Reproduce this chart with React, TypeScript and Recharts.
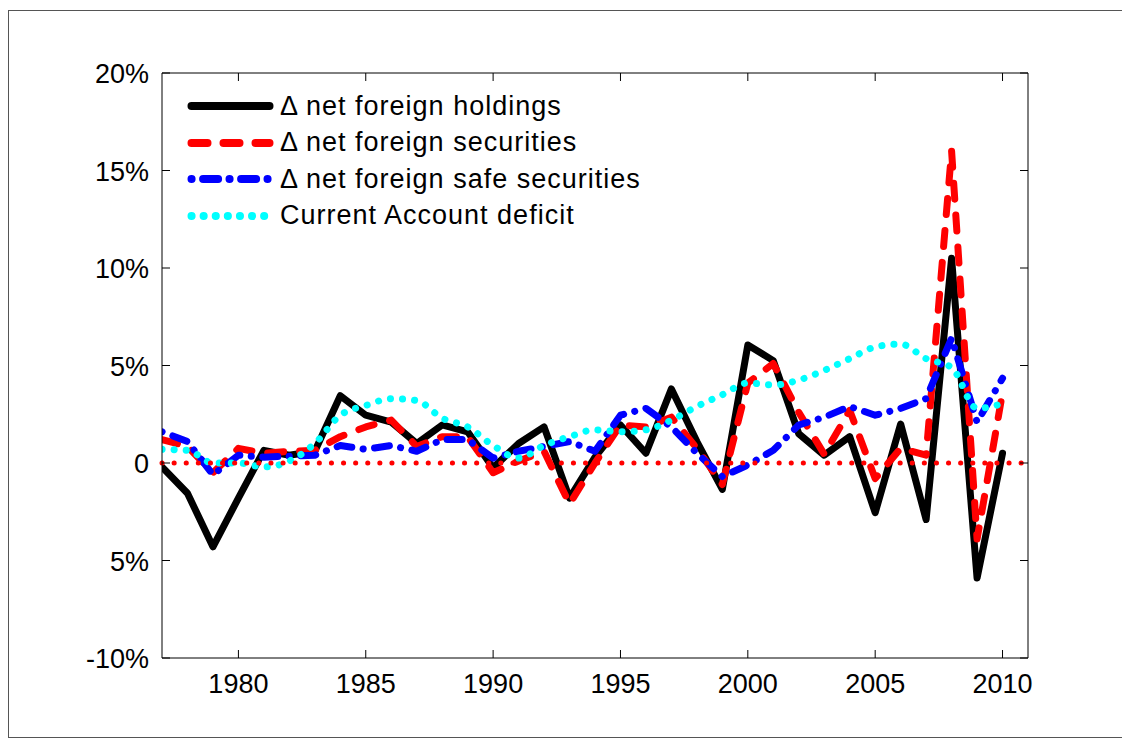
import { LineChart, Line, XAxis, YAxis, ReferenceLine, Legend } from 'recharts';

const FONT = '"Liberation Sans", Arial, Helvetica, sans-serif';

const years = [
  1977, 1978, 1979, 1980, 1981, 1982, 1983, 1984, 1985, 1986, 1987, 1988,
  1989, 1990, 1991, 1992, 1993, 1994, 1995, 1996, 1997, 1998, 1999, 2000,
  2001, 2002, 2003, 2004, 2005, 2006, 2007, 2008, 2009, 2010,
];

// values in percent
const netForeignHoldings = [
  -0.2, -1.55, -4.3, -1.8, 0.65, 0.4, 0.6, 3.45, 2.45, 2.1, 1.0, 1.95,
  1.6, -0.25, 1.0, 1.85, -1.8, 0.3, 1.95, 0.5, 3.8, 1.1, -1.35, 6.05,
  5.25, 1.5, 0.4, 1.35, -2.55, 2.0, -2.9, 10.5, -5.9, 0.5,
];

const netForeignSecurities = [
  1.2, 0.85, -0.5, 0.75, 0.5, 0.6, 0.65, 1.35, 1.85, 2.2, 0.85, 1.35,
  1.35, -0.5, 0.1, 0.6, -2.1, 0.0, 1.95, 1.85, 2.35, 0.75, -1.1, 4.1,
  5.1, 2.6, 0.45, 2.7, -0.8, 0.75, 0.4, 16.0, -3.9, 3.6,
];

const netForeignSafeSecurities = [
  1.6, 1.1, -0.6, 0.4, 0.3, 0.35, 0.4, 0.9, 0.7, 0.9, 0.6, 1.2,
  1.2, 0.25, 0.6, 0.85, 1.1, 0.6, 2.45, 2.8, 1.85, 0.5, -0.7, -0.1,
  0.65, 1.95, 2.35, 2.9, 2.45, 2.8, 3.3, 6.4, 2.1, 4.35,
];

const currentAccountDeficit = [
  0.7, 0.65, 0.0, 0.0, -0.2, 0.1, 1.0, 2.45, 2.95, 3.3, 3.2, 2.3,
  1.85, 0.9, 0.25, 0.9, 1.35, 1.7, 1.6, 1.7, 2.2, 2.9, 3.5, 4.1,
  4.0, 4.25, 4.75, 5.35, 5.95, 6.1, 5.35, 4.9, 2.8, 3.05,
];

const seriesNames = [
  '\u0394 net foreign holdings',
  '\u0394 net foreign securities',
  '\u0394 net foreign safe securities',
  'Current Account deficit',
];

const xTicks = [1980, 1985, 1990, 1995, 2000, 2005, 2010];
const yTicks = [-10, -5, 0, 5, 10, 15, 20];
const yTickLabels = ['-10%', '5%', '0', '5%', '10%', '15%', '20%'];

const data = years.map((year, i) => ({
  year,
  holdings: netForeignHoldings[i],
  securities: netForeignSecurities[i],
  safe: netForeignSafeSecurities[i],
  ca: currentAccountDeficit[i],
}));

const styles = [
  { key: 'holdings', color: '#000000', width: 7, dash: undefined as string | undefined },
  { key: 'securities', color: '#ff0000', width: 7, dash: '16 16' },
  { key: 'safe', color: '#0000ff', width: 7, dash: '0.1 11.5 15 11.4' },
  { key: 'ca', color: '#00ffff', width: 7, dash: '0.1 12' },
];

function BottomTick({ x, y, payload }: any) {
  return (
    <g>
      <line x1={x} y1={y} x2={x} y2={y - 8} stroke="#000" />
      <text x={x} y={y + 35} textAnchor="middle" fontSize={27} fontFamily={FONT} fill="#000">
        {payload.value}
      </text>
    </g>
  );
}

function TopTick({ x, y }: any) {
  return <line x1={x} y1={y} x2={x} y2={y + 8} stroke="#000" />;
}

function LeftTick({ x, y, payload }: any) {
  const idx = yTicks.indexOf(payload.value);
  return (
    <g>
      <line x1={x} y1={y} x2={x + 8} y2={y} stroke="#000" />
      <text x={x - 13} y={y + 10} textAnchor="end" fontSize={27} fontFamily={FONT} fill="#000">
        {yTickLabels[idx]}
      </text>
    </g>
  );
}

function RightTick({ x, y }: any) {
  return <line x1={x} y1={y} x2={x - 8} y2={y} stroke="#000" />;
}

function renderLegend() {
  return (
    <div style={{ fontFamily: FONT, fontSize: 27, color: '#000' }}>
      {styles.map((s, i) => (
        <div key={s.key} style={{ display: 'flex', alignItems: 'center', height: 36.5 }}>
          <svg width={92} height={14} style={{ display: 'block' }}>
            <line
              x1={6.5}
              y1={7}
              x2={84.5}
              y2={7}
              stroke={s.color}
              strokeWidth={s.width + 1}
              strokeDasharray={s.dash}
              strokeLinecap="round"
            />
          </svg>
          <span style={{ marginLeft: 3, whiteSpace: 'nowrap', letterSpacing: 1 }}>{seriesNames[i]}</span>
        </div>
      ))}
    </div>
  );
}

export default function App() {
  return (
    <div
      style={{
        position: 'relative',
        marginTop: 2,
        width: 1120,
        height: 726,
        border: '1px solid #555',
        background: '#fff',
      }}
    >
      <LineChart width={1120} height={726} data={data} margin={{ top: 32, right: 41, bottom: 19, left: 0 }}>
        <XAxis
          dataKey="year"
          type="number"
          domain={[1977, 2011]}
          allowDataOverflow
          ticks={xTicks}
          height={60}
          tickSize={0}
          tickMargin={0}
          tickLine={false}
          axisLine={{ stroke: '#000' }}
          tick={<BottomTick />}
        />
        <XAxis
          xAxisId="top"
          orientation="top"
          dataKey="year"
          type="number"
          domain={[1977, 2011]}
          allowDataOverflow
          ticks={xTicks}
          height={30}
          tickSize={0}
          tickMargin={0}
          tickLine={false}
          axisLine={{ stroke: '#000' }}
          tick={<TopTick />}
        />
        <YAxis
          type="number"
          domain={[-10, 20]}
          allowDataOverflow
          ticks={yTicks}
          width={153}
          tickSize={0}
          tickMargin={0}
          tickLine={false}
          axisLine={{ stroke: '#000' }}
          tick={<LeftTick />}
        />
        <YAxis
          yAxisId="right"
          orientation="right"
          type="number"
          domain={[-10, 20]}
          allowDataOverflow
          ticks={yTicks}
          width={60}
          tickSize={0}
          tickMargin={0}
          tickLine={false}
          axisLine={{ stroke: '#000' }}
          tick={<RightTick />}
        />
        <Legend
          layout="vertical"
          align="center"
          verticalAlign="middle"
          content={renderLegend}
          wrapperStyle={{ top: 77, left: 176, width: 'auto', height: 'auto' }}
        />
        {styles.map((s, i) => (
          <Line
            key={s.key}
            dataKey={s.key}
            name={seriesNames[i]}
            type={s.key === 'ca' ? 'monotone' : 'linear'}
            stroke={s.color}
            strokeWidth={s.width}
            strokeDasharray={s.dash}
            strokeLinecap="round"
            strokeLinejoin="round"
            dot={false}
            activeDot={false}
            isAnimationActive={false}
          />
        ))}
        <ReferenceLine
          y={0}
          stroke="#ff0000"
          strokeWidth={5}
          strokeDasharray="0.1 12"
          strokeLinecap="round"
        />
      </LineChart>
    </div>
  );
}
